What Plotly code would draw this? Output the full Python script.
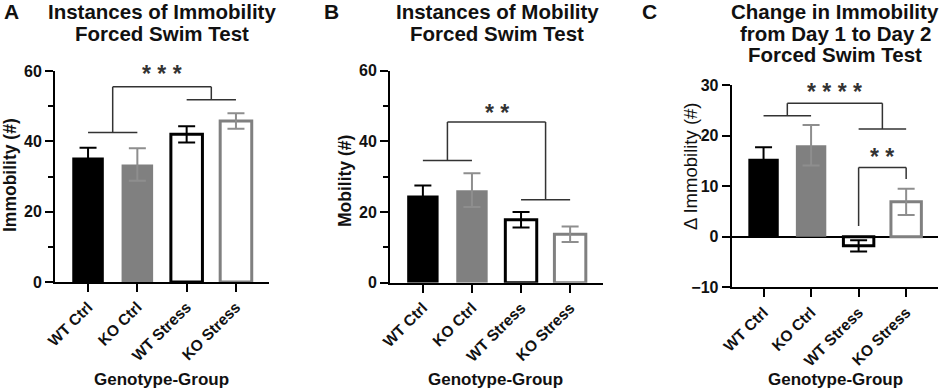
import plotly.graph_objects as go

W, H = 941, 391

categories = ["WT Ctrl", "KO Ctrl", "WT Stress", "KO Stress"]

immobility_mean = [35.4, 33.4, 42.0, 45.8]
immobility_sem = [2.8, 4.6, 2.3, 2.2]

mobility_mean = [24.7, 26.2, 17.8, 13.7]
mobility_sem = [2.8, 4.8, 2.2, 2.2]

delta_mean = [15.4, 18.1, -1.8, 6.9]
delta_sem = [2.3, 4.0, 1.1, 2.6]

# significance brackets: (left pair y, right pair y, top y, star y, stars)
sig_A = (42.5, 51.8, 55.5, 60.4, "* * *")
sig_B = (34.6, 23.5, 45.5, 49.3, "* *")
sig_C = (23.9, 21.3, 26.4, 29.4, "* * * *")
# pair bracket in C: (left leg bottom, right leg bottom, top, star y, stars)
sig_C2 = (2.1, 11.4, 13.7, 16.6, "* *")

FONT = "Liberation Sans, Arial, sans-serif"
BLACK = "#000000"
GRAY = "#808080"
ERRGRAY = "#8e8e8e"
BRK = "#333333"
TXT = "#111111"

fill = [BLACK, GRAY, "white", "white"]
edge = [BLACK, GRAY, BLACK, GRAY]
edge_w = [0, 0, 3, 3]
err_col = [BLACK, ERRGRAY, BLACK, ERRGRAY]


def px_x(x):
    return x / W


def px_y(y):
    return 1 - y / H


panels = [
    dict(mean=immobility_mean, sem=immobility_sem, xdom=(55, 269), ydom=(71, 282),
         yrange=[0, 60], dtick=20, minor=10, sig=sig_A,
         title=["Instances of Immobility", "Forced Swim Test"], tx=162, letter="A", lx=11,
         ylabel="<b>Immobility (#)</b>", ylx=10, yly=175, ylsize=17.5, xtx=161),
    dict(mean=mobility_mean, sem=mobility_sem, xdom=(390, 603), ydom=(70.7, 282.7),
         yrange=[0, 60], dtick=20, minor=10, sig=sig_B,
         title=["Instances of Mobility", "Forced Swim Test"], tx=497, letter="B", lx=331,
         ylabel="<b>Mobility (#)</b>", ylx=345, yly=181, ylsize=17.5, xtx=496),
    dict(mean=delta_mean, sem=delta_sem, xdom=(731.7, 938), ydom=(85, 287.3),
         yrange=[-10, 30], dtick=10, minor=None, sig=sig_C,
         title=["Change in Immobility", "from Day 1 to Day 2", "Forced Swim Test"], tx=835,
         letter="C", lx=649, ylabel="Δ Immobility (#)", ylx=690, yly=166, ylsize=18.5, xtx=835),
]

fig = go.Figure()
shapes = []
annotations = []


def star_annot(xa, ya, x, sy, text, p):
    # keep the anchor inside the axis range (else Plotly hides it), shift in px
    lo, hi = p["yrange"]
    ppu = (p["ydom"][1] - p["ydom"][0]) / (hi - lo)
    ay = min(sy, hi - 0.01)
    shift = (sy - ay) * ppu - 4
    return dict(xref=xa, yref=ya, x=x, y=ay, text=text, showarrow=False,
                font=dict(family=FONT, size=23, color=BRK, weight="bold"),
                yshift=shift, xanchor="center", yanchor="middle")


for k, p in enumerate(panels):
    xa = "x" if k == 0 else f"x{k + 1}"
    ya = "y" if k == 0 else f"y{k + 1}"
    for i in range(len(categories)):
        fig.add_trace(go.Bar(
            x=[i], y=[p["mean"][i]], width=0.64,
            marker=dict(color=fill[i], line=dict(color=edge[i], width=edge_w[i])),
            error_y=dict(type="data", array=[p["sem"][i]], color=err_col[i],
                         thickness=2, width=8.5, visible=True),
            xaxis=xa, yaxis=ya, showlegend=False, hoverinfo="skip",
        ))

    xkey = "xaxis" if k == 0 else f"xaxis{k + 1}"
    ykey = "yaxis" if k == 0 else f"yaxis{k + 1}"
    fig.layout[xkey] = dict(
        domain=[px_x(p["xdom"][0]), px_x(p["xdom"][1])],
        range=[-0.67, 3.67], tickmode="array",
        tickvals=list(range(len(categories))), ticktext=categories,
        tickangle=-45, ticks="outside", ticklen=8, tickwidth=2, tickcolor=BLACK,
        showline=True, linewidth=2, linecolor=BLACK, showgrid=False, zeroline=False,
        tickfont=dict(family=FONT, size=15.5, color=TXT, weight="bold"),
        anchor=ya, fixedrange=True,
    )
    yax = dict(
        domain=[px_y(p["ydom"][1]), px_y(p["ydom"][0])],
        range=p["yrange"], dtick=p["dtick"], tick0=0,
        ticks="outside", ticklen=8, tickwidth=2, tickcolor=BLACK,
        showline=True, linewidth=2, linecolor=BLACK, showgrid=False,
        zeroline=(p["yrange"][0] < 0), zerolinecolor=BLACK, zerolinewidth=2,
        tickfont=dict(family=FONT, size=16, color=TXT, weight="bold"),
        anchor=xa, fixedrange=True,
    )
    if p["minor"]:
        yax["minor"] = dict(dtick=p["minor"], tick0=0, ticks="outside", ticklen=5,
                            tickwidth=2, tickcolor=BLACK, showgrid=False)
    fig.layout[ykey] = yax

    # group bracket
    lp, rp, top, sy, stars = p["sig"]
    segs = [
        (0, lp, 1, lp),
        (0.5, lp, 0.5, top),
        (0.5, top, 2.5, top),
        (2.5, top, 2.5, rp),
        (2, rp, 3, rp),
    ]
    for x0, y0, x1, y1 in segs:
        shapes.append(dict(type="line", xref=xa, yref=ya, x0=x0, y0=y0, x1=x1, y1=y1,
                           line=dict(color=BRK, width=1.5)))
    annotations.append(star_annot(xa, ya, 1.5, sy, stars, p))

    # titles
    for j, line in enumerate(p["title"]):
        annotations.append(dict(xref="paper", yref="paper", x=px_x(p["tx"]),
                                y=px_y(12 + 21.5 * j), text=f"<b>{line}</b>", showarrow=False,
                                font=dict(family=FONT, size=20.5, color=TXT),
                                xanchor="center", yanchor="middle"))
    annotations.append(dict(xref="paper", yref="paper", x=px_x(p["lx"]), y=px_y(12),
                            text=f"<b>{p['letter']}</b>", showarrow=False,
                            font=dict(family=FONT, size=21, color=TXT),
                            xanchor="center", yanchor="middle"))
    annotations.append(dict(xref="paper", yref="paper", x=px_x(p["ylx"]), y=px_y(p["yly"]),
                            text=p["ylabel"], showarrow=False, textangle=-90,
                            font=dict(family=FONT, size=p["ylsize"], color=TXT),
                            xanchor="center", yanchor="middle"))
    annotations.append(dict(xref="paper", yref="paper", x=px_x(p["xtx"]), y=px_y(379),
                            text="<b>Genotype-Group</b>", showarrow=False,
                            font=dict(family=FONT, size=17, color=TXT),
                            xanchor="center", yanchor="middle"))

# pair bracket in panel C
l_b, r_b, t_b, s_b, st_b = sig_C2
for x0, y0, x1, y1 in [(2, l_b, 2, t_b), (2, t_b, 3, t_b), (3, t_b, 3, r_b)]:
    shapes.append(dict(type="line", xref="x3", yref="y3", x0=x0, y0=y0, x1=x1, y1=y1,
                       line=dict(color=BRK, width=1.5)))
annotations.append(star_annot("x3", "y3", 2.5, s_b, st_b, panels[2]))

fig.update_layout(
    width=W, height=H, margin=dict(l=0, r=0, t=0, b=0, autoexpand=False),
    paper_bgcolor="white", plot_bgcolor="white",
    barmode="overlay", shapes=shapes, annotations=annotations,
    font=dict(family=FONT, color=BLACK),
)

fig.write_html(
    "out.html",
    config={"responsive": False, "displayModeBar": False},
    post_script="document.body.style.margin='0';document.body.style.overflow='hidden';",
)
